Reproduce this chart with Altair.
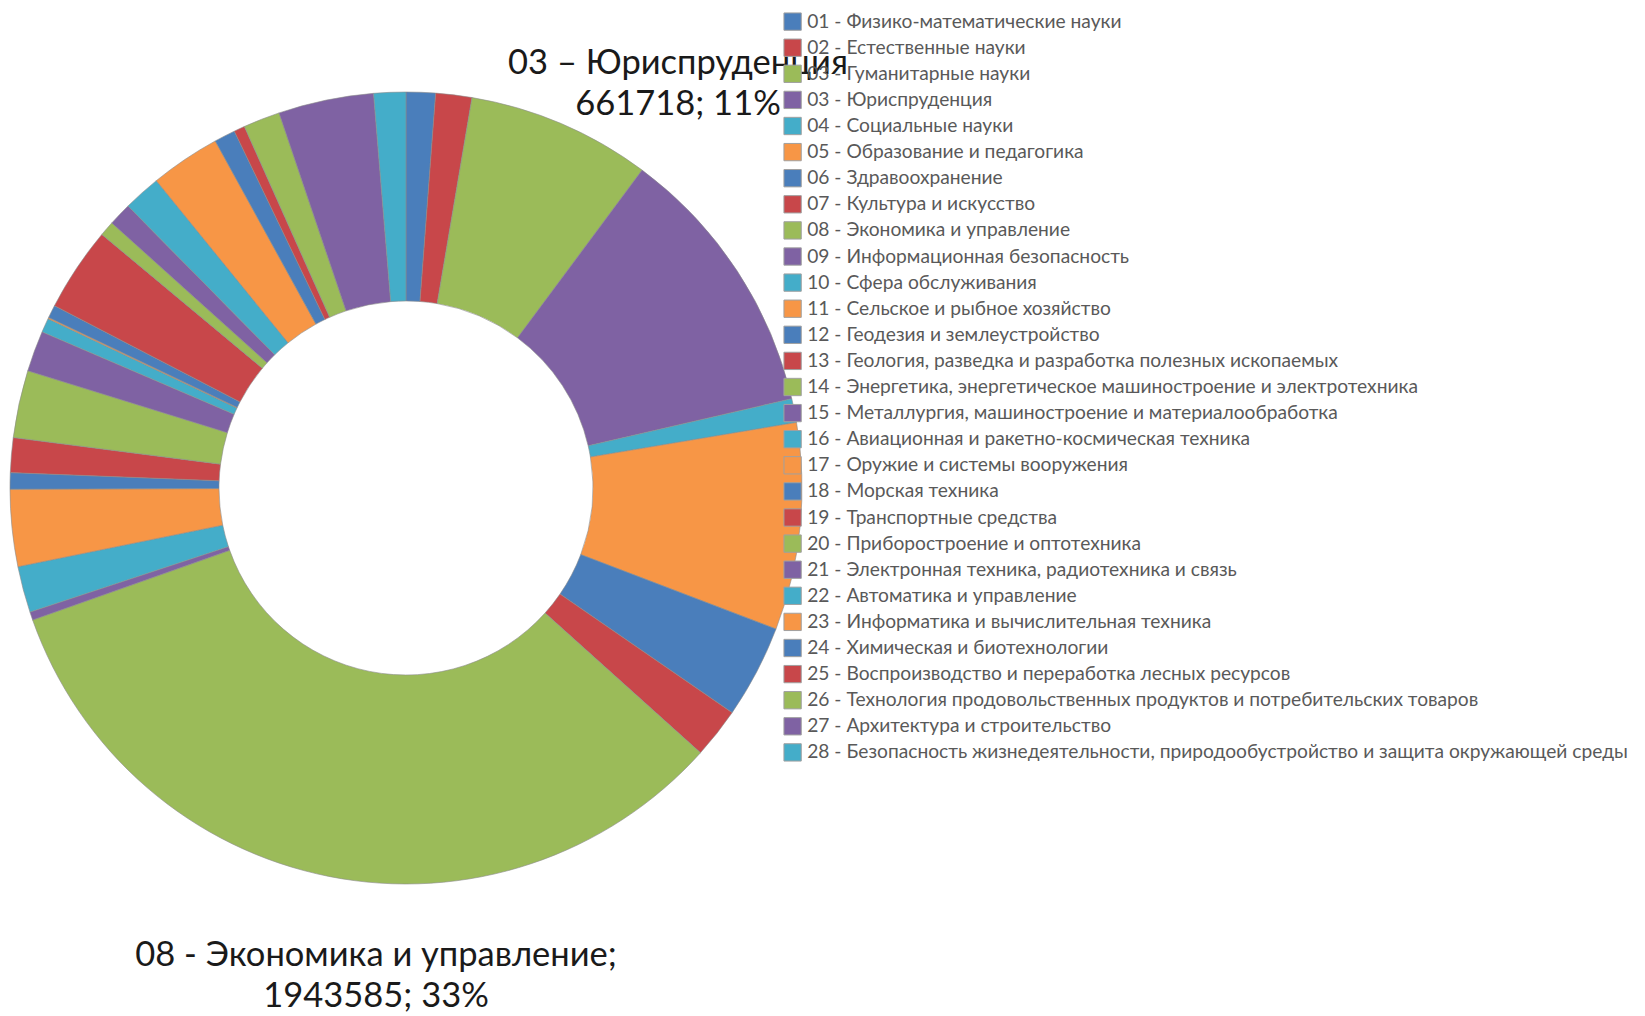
import altair as alt
import pandas as pd

categories = [
    "01 - Физико-математические науки",
    "02 - Естественные науки",
    "03 - Гуманитарные науки",
    "03 - Юриспруденция",
    "04 - Социальные науки",
    "05 - Образование и педагогика",
    "06 - Здравоохранение",
    "07 - Культура и искусство",
    "08 - Экономика и управление",
    "09 - Информационная безопасность",
    "10 - Сфера обслуживания",
    "11 - Сельское и рыбное хозяйство",
    "12 - Геодезия и землеустройство",
    "13 - Геология, разведка и разработка полезных ископаемых",
    "14 - Энергетика, энергетическое машиностроение и электротехника",
    "15 - Металлургия, машиностроение и материалообработка",
    "16 - Авиационная и ракетно-космическая техника",
    "17 - Оружие и системы вооружения",
    "18 - Морская техника",
    "19 - Транспортные средства",
    "20 - Приборостроение и оптотехника",
    "21 - Электронная техника, радиотехника и связь",
    "22 - Автоматика и управление",
    "23 - Информатика и вычислительная техника",
    "24 - Химическая и биотехнологии",
    "25 - Воспроизводство и переработка лесных ресурсов",
    "26 - Технология продовольственных продуктов и потребительских товаров",
    "27 - Архитектура и строительство",
    "28 -  Безопасность жизнедеятельности, природообустройство и защита окружающей среды",
]

values = [
    70500, 86900, 442500, 661718, 57400, 498200, 224500, 121300, 1943585,
    19700, 111400, 185200, 39300, 83600, 162200, 98300, 34400, 3300, 31100,
    203200, 36100, 55700, 90100, 168800, 50800, 26200, 88500, 229400, 77000,
]

palette = ["#4A7EBB", "#C8474A", "#9BBB59", "#7F62A3", "#44ADC9", "#F79646"]
colors = [palette[i % len(palette)] for i in range(len(categories))]

df = pd.DataFrame({"cat": categories, "value": values, "idx": list(range(len(categories)))})
total = sum(values)


def label_for(i, name, sep):
    return f"{name}{sep}\n{values[i]}; {round(values[i] / total * 100)}%"


lab_top = pd.DataFrame({"t": [label_for(3, "03 – Юриспруденция", "")]})
lab_bot = pd.DataFrame({"t": [label_for(8, "08 - Экономика и управление", ";")]})

donut = alt.Chart(df).mark_arc(
    radius=396, radius2=187, stroke="#8c8c8c", strokeWidth=0.6
).encode(
    theta=alt.Theta("value:Q", stack=True),
    order=alt.Order("idx:Q"),
    color=alt.Color(
        "cat:N",
        scale=alt.Scale(domain=categories, range=colors),
        legend=alt.Legend(
            title=None,
            orient="none",
            legendX=775,
            legendY=4,
            symbolType="square",
            symbolSize=300,
            symbolStrokeWidth=1,
            symbolStrokeColor="#a0a0a0",
            symbolOpacity=1,
            labelFont="Lato",
            labelFontSize=19.2,
            labelColor="#595959",
            labelLimit=1200,
            labelOffset=5,
            rowPadding=3.1,
            padding=0,
        ),
    ),
    x=alt.value(398),
    y=alt.value(480),
)

text_props = dict(font="Lato", fontSize=34.5, color="#1a1a1a", align="center",
                  baseline="alphabetic", lineBreak="\n", lineHeight=41)

top = alt.Chart(lab_top).mark_text(**text_props).encode(
    text="t:N", x=alt.value(670), y=alt.value(66)
)
bot = alt.Chart(lab_bot).mark_text(**text_props).encode(
    text="t:N", x=alt.value(368), y=alt.value(958)
)

chart = alt.layer(donut, top, bot).properties(
    width=1628, height=1007, padding=0,
    autosize=alt.AutoSizeParams(type="none"),
).configure_view(stroke=None)

chart.save("out.html", embed_options={"renderer": "svg", "actions": False})
